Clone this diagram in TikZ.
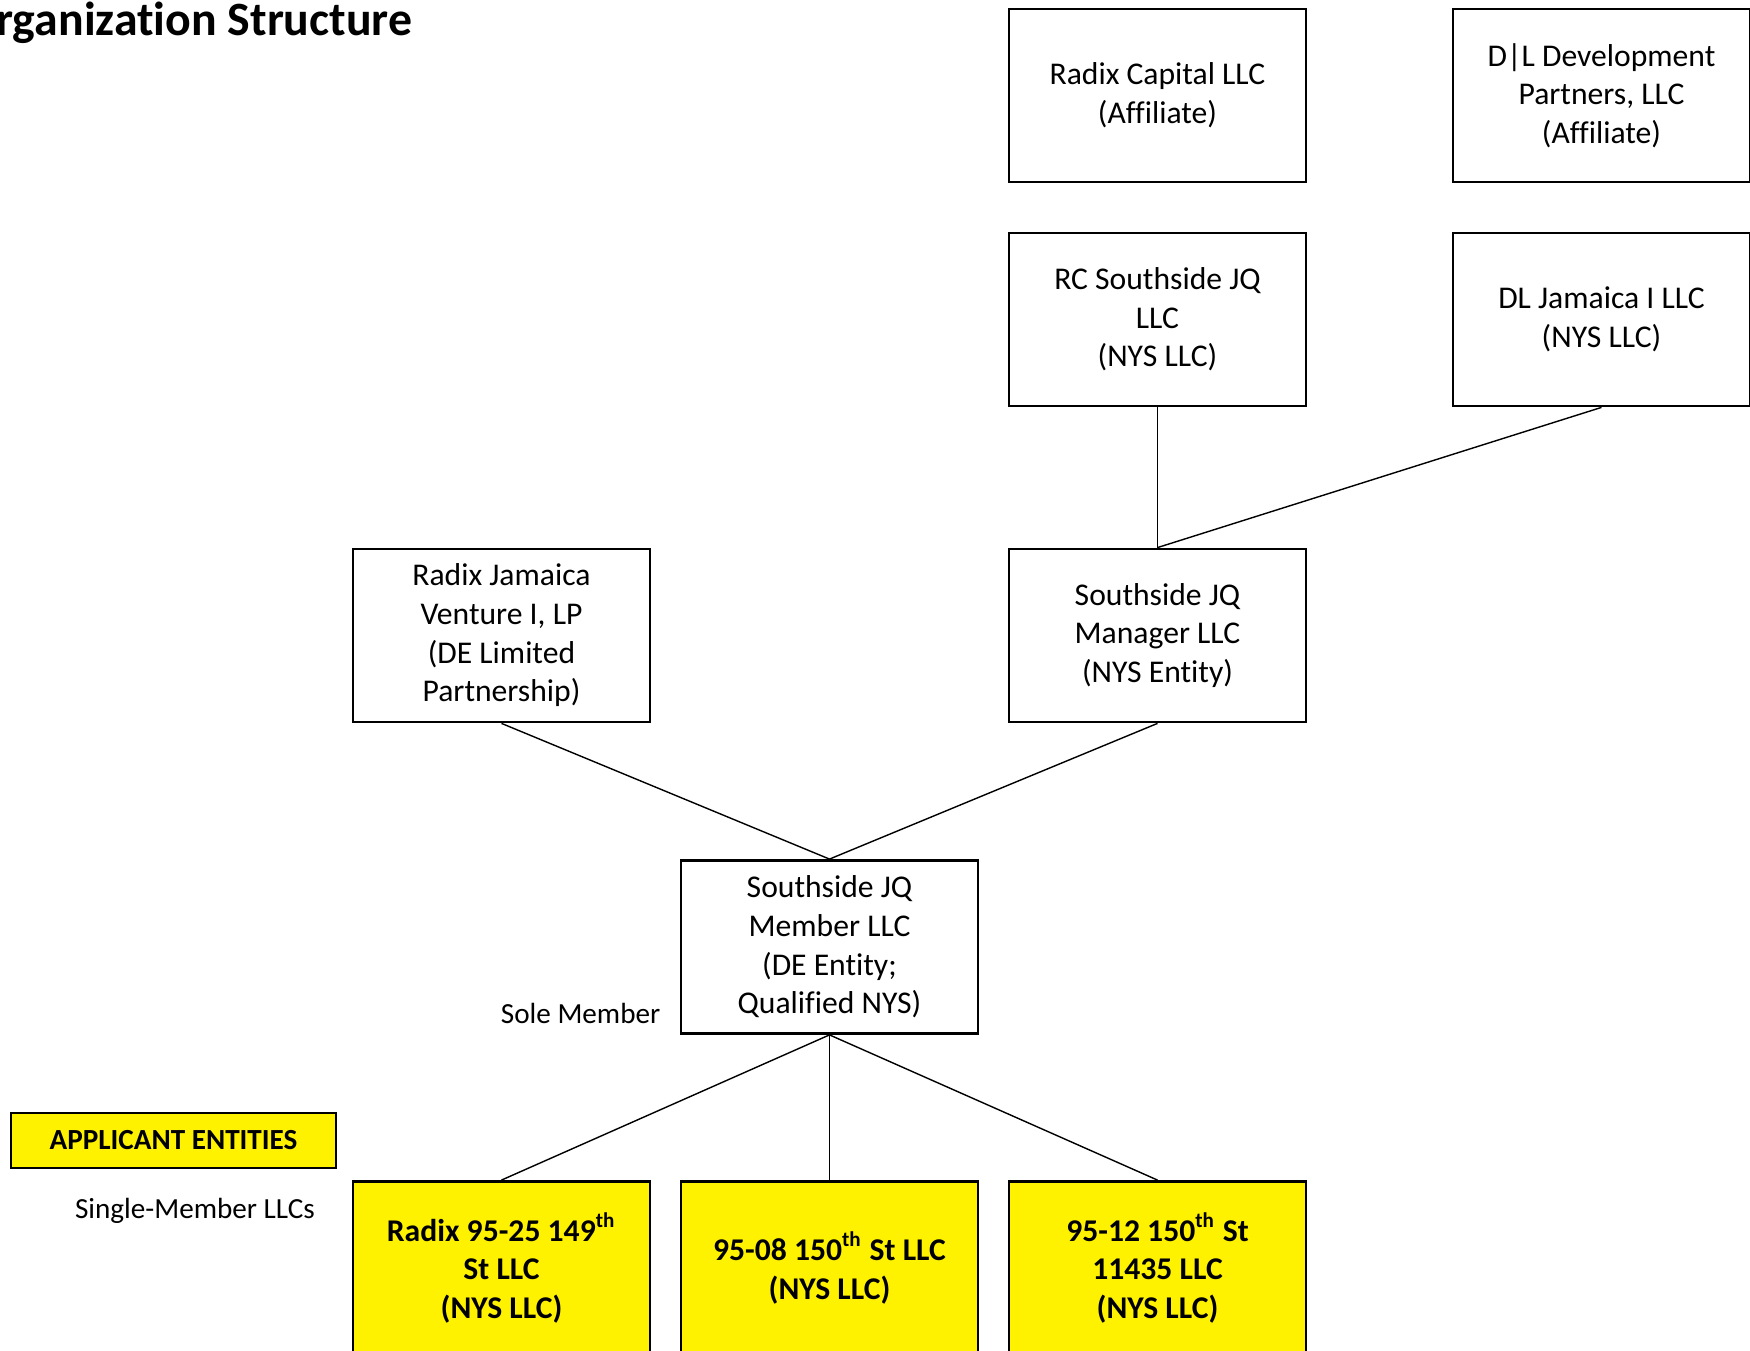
\documentclass[tikz,border=0pt]{standalone}
\usepackage{fontspec}
\setmainfont{Carlito}[Ligatures=NoCommon]
\usepackage{tikz}

\begin{document}
\begin{tikzpicture}[x=0.1mm, y=-0.1mm,
    entity/.style={draw, line width=0.8pt, minimum width=2.97cm, minimum height=1.73cm,
      inner sep=0pt, align=center, font=\fontsize{9}{11}\selectfont},
    applicant/.style={entity, fill=yellow, font=\fontsize{9}{11}\selectfont\bfseries},
    link/.style={line width=0.4pt},
    note/.style={inner sep=0pt, font=\fontsize{8.3}{10}\selectfont}]
    % Fix the page size
    \useasboundingbox (0,0) rectangle (1750,1351);

    % Title, cut at the left edge
    \node[anchor=base east, inner sep=0pt, font=\fontsize{13.6}{16}\selectfont\bfseries] (title) at (413,36) {Organization Structure};

    % Define the column and row positions
    \def\colA{501.5}
    \def\colB{829.5}
    \def\colC{1157.5}
    \def\colD{1601.5}

    % Affiliates
    \node[entity] (cap) at (\colC,95.5) {Radix Capital LLC\\(Affiliate)};
    \node[entity] (dld) at (\colD,95.5) {D|L Development\\Partners, LLC\\(Affiliate)};

    % Members of the manager
    \node[entity] (rcs) at (\colC,319.5) {RC Southside JQ\\LLC\\(NYS LLC)};
    \node[entity] (dlj) at (\colD,319.5) {DL Jamaica I LLC\\(NYS LLC)};

    % Owners of the member
    \node[entity] (rjv) at (\colA,635.5) {Radix Jamaica\\Venture I, LP\\(DE Limited\\Partnership)};
    \node[entity] (mgr) at (\colC,635.5) {Southside JQ\\Manager LLC\\(NYS Entity)};

    % Sole member
    \node[entity] (mem) at (\colB,947) {Southside JQ\\Member LLC\\(DE Entity;\\Qualified NYS)};
    \node[note, anchor=base east] (sole) at (661,1024) {Sole Member};

    % Applicant entities
    \node[entity, fill=yellow, minimum width=3.25cm, minimum height=0.55cm,
      font=\fontsize{8.3}{10}\selectfont\bfseries] (key) at (173.5,1140.5) {APPLICANT ENTITIES};
    \node[note, anchor=base] (smllc) at (195,1219) {Single-Member LLCs};
    \node[applicant] (app1) at (\colA,1268) {Radix 95-25 149\textsuperscript{th}\\St LLC\\(NYS LLC)};
    \node[applicant] (app2) at (\colB,1268) {95-08 150\textsuperscript{th} St LLC\\(NYS LLC)};
    \node[applicant] (app3) at (\colC,1268) {95-12 150\textsuperscript{th} St\\11435 LLC\\(NYS LLC)};

    % Draw ownership lines
    \draw[link] (rcs.south) -- (mgr.north);
    \draw[link] (dlj.south) -- (mgr.north);
    \draw[link] (rjv.south) -- (mem.north);
    \draw[link] (mgr.south) -- (mem.north);
    \foreach \n in {app1,app2,app3}
        \draw[link] (mem.south) -- (\n.north);
\end{tikzpicture}
\end{document}
